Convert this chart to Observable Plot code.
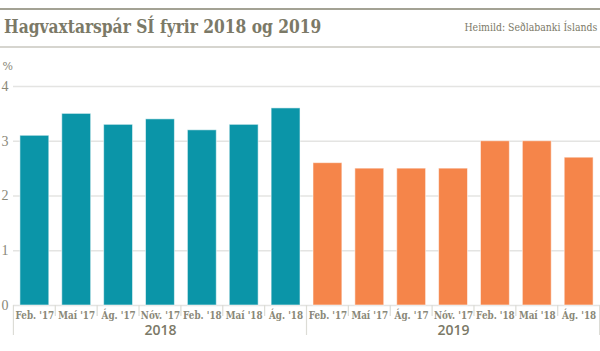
<!DOCTYPE html>
<html>
<head>
<meta charset="utf-8">
<script src="https://cdn.jsdelivr.net/npm/d3@7"></script>
<script src="https://cdn.jsdelivr.net/npm/@observablehq/plot@0.6"></script>
<style>
  html, body { margin: 0; padding: 0; background: #fff; }
  #wrap { width: 600px; height: 351px; position: relative; overflow: hidden; }
  #header { position: relative; height: 52px; }
  #toprule { position: absolute; left: 0; top: 8px; width: 600px; height: 2px; background: #a3a294; }
  #botrule { position: absolute; left: 0; top: 46px; width: 600px; height: 2px; background: #d6d5cf; }
  #title { position: absolute; left: 4px; top: 16px; font-family: "DejaVu Serif", serif; font-weight: bold;
           font-size: 18px; color: #7b7967; white-space: nowrap; transform: scaleX(0.86); transform-origin: left top; }
  #source { position: absolute; right: 3px; top: 21px; font-family: "DejaVu Serif", serif;
            font-size: 11px; color: #7b7967; white-space: nowrap; transform: scaleX(0.85); transform-origin: right top; }
  svg { display: block; }
</style>
</head>
<body>
<div id="wrap">
  <div id="header">
    <div id="toprule"></div>
    <div id="title">Hagvaxtarspár SÍ fyrir 2018 og 2019</div>
    <div id="source">Heimild: Seðlabanki Íslands</div>
    <div id="botrule"></div>
  </div>
  <div id="chart"></div>
</div>
<script>
const years = ["2018", "2019"];
const forecastDates = ["Feb. '17", "Maí '17", "Ág. '17", "Nóv. '17", "Feb. '18", "Maí '18", "Ág. '18"];
const growth2018 = [3.1, 3.5, 3.3, 3.4, 3.2, 3.3, 3.6];
const growth2019 = [2.6, 2.5, 2.5, 2.5, 3.0, 3.0, 2.7];
const yTicks = [0, 1, 2, 3, 4];
const colors = {"2018": "#0b95a8", "2019": "#f5854a"};

const seriesValues = {"2018": growth2018, "2019": growth2019};
const rows = [];
years.forEach(yr => forecastDates.forEach((d, i) => rows.push({year: yr, date: d, key: yr + "|" + d, value: seriesValues[yr][i]})));
const keys = rows.map(r => r.key);
const midKeys = years.map(yr => yr + "|" + forecastDates[Math.floor(forecastDates.length / 2)]);

const labelFont = '"DejaVu Serif", serif';
const W = 600, H = 299;

const plot = Plot.plot({
  width: W,
  height: H,
  marginLeft: 13,
  marginRight: 0,
  marginTop: 34,
  marginBottom: 46,
  style: {fontFamily: labelFont, color: "#8a8878", background: "transparent"},
  x: {domain: keys, paddingInner: 0.31, paddingOuter: 0.165, align: 0.5, round: false, label: null},
  y: {domain: [0, 4], label: null},
  marks: [
    Plot.ruleY(yTicks, {stroke: "#e4e4e2", strokeWidth: 1.5}),
    Plot.axisY(yTicks, {tickSize: 0, tickPadding: 5, fontSize: 14, fill: "#8a8878", fontFamily: '"Liberation Serif", serif',
                        tickFormat: d => String(d), label: null}),
    Plot.barY(rows, {x: "key", y: "value", fill: d => colors[d.year], stroke: "#ffffff", strokeOpacity: 0.55, strokeWidth: 1}),
    Plot.axisX({className: "xlab", tickSize: 0, tickPadding: 6, fontSize: 11, fontWeight: "bold", fill: "#8a8878",
                tickFormat: k => k.split("|")[1], label: null}),
    Plot.text(years, {x: (d, i) => midKeys[i], frameAnchor: "bottom", dy: 29, fontSize: 14, fontWeight: 600,
                      fill: "#7b7967", fontFamily: '"Open Sans", sans-serif', text: d => d}),
    Plot.text(["%"], {frameAnchor: "top-left", dx: -11, dy: -24, fontSize: 11, fill: "#8a8878", textAnchor: "start"})
  ]
});

// separators between forecast labels, placed with the x scale
const xs = plot.scale("x");
const gapHalf = (xs.step - xs.bandwidth) / 2;
const y0 = plot.scale("y").apply(0);
const svg = d3.select(plot);
const sepG = svg.append("g").attr("stroke", "#dcdcd6").attr("stroke-width", 1.2);
keys.forEach((k, i) => {
  const left = xs.apply(k) - gapHalf;
  const isGroupStart = i % forecastDates.length === 0;
  sepG.append("line").attr("x1", left).attr("x2", left).attr("y1", y0).attr("y2", y0 + (isGroupStart ? 30 : 11));
});
const lastRight = xs.apply(keys[keys.length - 1]) + xs.bandwidth + gapHalf;
sepG.append("line").attr("x1", lastRight).attr("x2", lastRight).attr("y1", y0).attr("y2", y0 + 30);

document.getElementById("chart").appendChild(plot);

// condense the tick labels of the forecast dates
svg.selectAll(".xlab text").each(function () {
  const len = this.getComputedTextLength();
  this.setAttribute("textLength", (len * 0.8).toFixed(1));
  this.setAttribute("lengthAdjust", "spacingAndGlyphs");
});
</script>
</body>
</html>
